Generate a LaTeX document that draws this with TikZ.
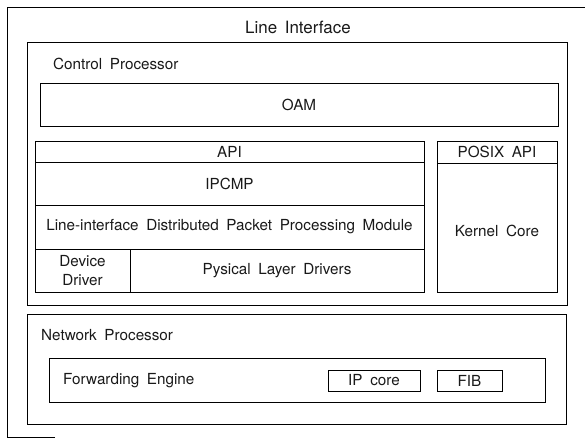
\documentclass[tikz,border=0pt]{standalone}
\usepackage{fontspec}
\setmainfont{TeX Gyre Heros}
\usetikzlibrary{fit}
\newcommand\mywidesp{\spaceskip=0.5em\relax}
\newcommand\mytitlesp{\spaceskip=0.45em\relax}
\begin{document}
\begin{tikzpicture}[x=1bp,y=-1bp,
  box/.style={draw, line width=0.8bp, inner sep=0pt},
  txt/.style={font=\fontsize{15.3}{19}\selectfont\mywidesp, inner sep=0pt},
  title/.style={font=\fontsize{17}{20}\selectfont\mytitlesp, inner sep=0pt},
  every node/.append style={text=black!90}]
\useasboundingbox (0,0) rectangle (585,446);
% outer frame (partially visible)
\coordinate (ob) at (55,437);
\coordinate (obl) at (7,437);
\coordinate (otl) at (7,7);
\coordinate (otr) at (586,7);
\draw[line width=0.8bp] (ob) -- (obl) -- (otl) -- (otr);
\node[title] (li) at (298,27) {Line Interface};
% control processor
\node[box, fit={(27,42)(567,305)}] (cp) {};
\node[txt, anchor=west] (cpt) at (53,64) {Control Processor};
\node[box, fit={(40,83)(558,126)}] (oam) {};
\node[txt] at (oam.center) {OAM};
\node[box, fit={(35,141)(424,162)}] (api) {};
\node[txt] at (api.center) {API};
\node[box, fit={(35,162)(424,205)}] (ipcmp) {};
\node[txt] at (ipcmp.center) {IPCMP};
\node[box, fit={(35,205)(424,249)}] (lid) {};
\node[txt] at (lid.center) {Line-interface Distributed Packet Processing Module};
\node[box, fit={(35,249)(130,292)}] (dd) {};
\node[txt, align=center, font=\fontsize{15.3}{19}\selectfont] at (dd.center) {Device\\Driver};
\node[box, fit={(130,249)(424,292)}] (pld) {};
\node[txt] at (pld.center) {Pysical Layer Drivers};
\node[box, fit={(437,141)(557,163)}] (posix) {};
\node[txt] at (posix.center) {POSIX API};
\node[box, fit={(437,163)(557,292)}] (kc) {};
\node[txt] at ([yshift=-3bp]kc.center) {Kernel Core};
% network processor
\node[box, fit={(27,314)(566,424)}] (np) {};
\node[txt, anchor=west] (npt) at (41,335) {Network Processor};
\node[box, fit={(49,358)(545,402)}] (fe) {};
\node[txt, anchor=west] (fet) at (63,381) {Forwarding Engine};
\node[box, fit={(328,370)(420,391)}] (ipc) {};
\node[txt] at (ipc.center) {IP core};
\node[box, fit={(437,370)(502,391)}] (fib) {};
\node[txt] at (fib.center) {FIB};
\end{tikzpicture}
\end{document}
